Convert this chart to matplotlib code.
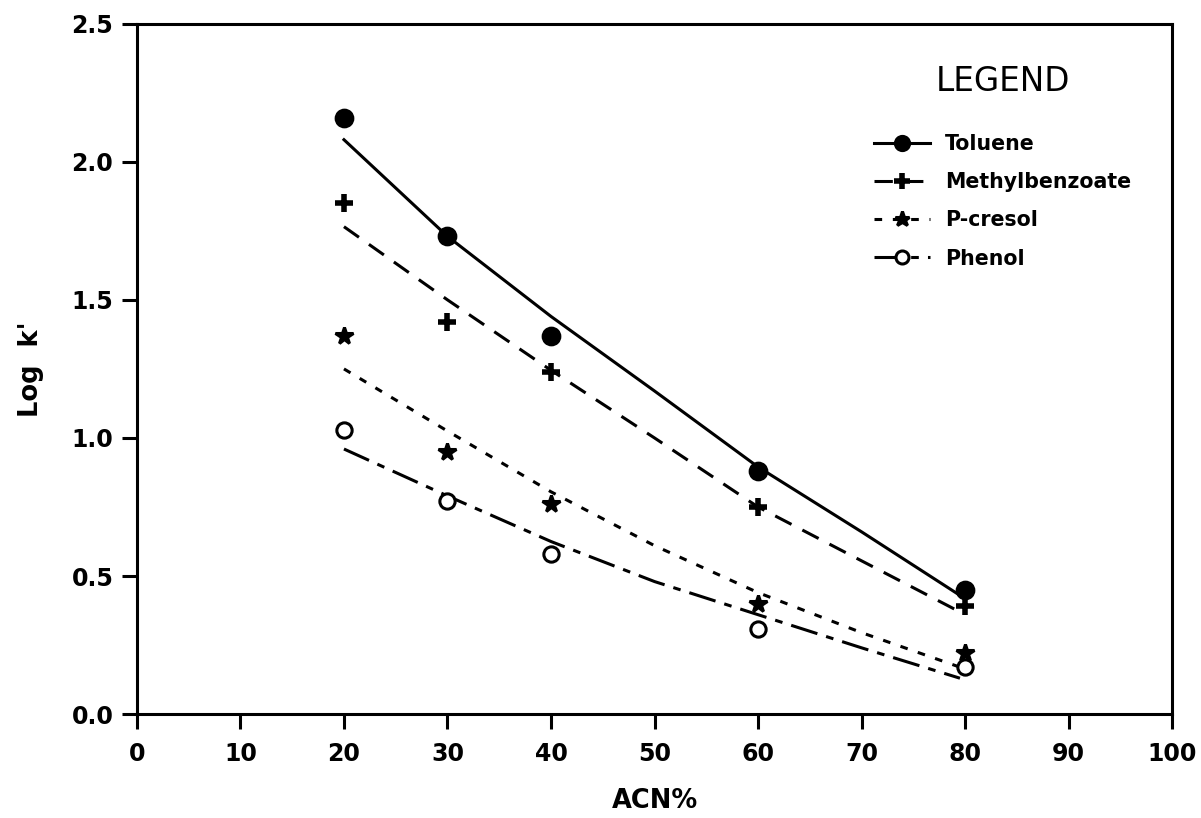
import numpy as np
import matplotlib
matplotlib.use("Agg")
import matplotlib.pyplot as plt

acn = [20, 30, 40, 60, 80]
toluene = [2.16, 1.73, 1.37, 0.88, 0.45]
methylbenzoate = [1.85, 1.42, 1.24, 0.75, 0.39]
p_cresol = [1.37, 0.95, 0.76, 0.40, 0.22]
phenol = [1.03, 0.77, 0.58, 0.31, 0.17]

# curvas ajustadas, tambien
acn_fit = [20, 30, 40, 50, 60, 70, 79.5]
toluene_fit = [2.08, 1.73, 1.44, 1.17, 0.895, 0.66, 0.43]
methylbenzoate_fit = [1.765, 1.50, 1.245, 1.00, 0.75, 0.555, 0.37]
p_cresol_fit = [1.25, 1.025, 0.805, 0.61, 0.44, 0.295, 0.17]
phenol_fit = [0.96, 0.79, 0.625, 0.48, 0.36, 0.24, 0.13]

series = [
    ("Toluene", toluene, toluene_fit, "o", "black", "-", 12),
    ("Methylbenzoate", methylbenzoate, methylbenzoate_fit, "+", "black", (0, (6, 4)), 13),
    ("P-cresol", p_cresol, p_cresol_fit, "*", "black", (0, (2.5, 3.5)), 13),
    ("Phenol", phenol, phenol_fit, "o", "white", (0, (9, 3, 2.5, 3)), 11),
]

plt.rcParams['font.family'] = ['DejaVu Sans']
fig = plt.figure(figsize=(12.01, 8.18), dpi=100)
ax = fig.add_axes([0.114, 0.127, 0.862, 0.844])

handles = []
for nombre, valores, ajuste, marca, relleno, estilo, ms in series:
    ax.plot(acn_fit, ajuste, color="black", lw=2.2, linestyle=estilo)
    mew = 4 if marca == "+" else 2.2
    ax.plot(acn, valores, linestyle="none", marker=marca, ms=ms,
            mfc=relleno, mec="black", mew=mew)
    h, = ax.plot([], [], color="black", lw=2.2, linestyle=estilo, marker=marca,
                 ms=ms * 0.85, mfc=relleno, mec="black", mew=mew, label=nombre)
    handles.append(h)

ax.set_xlim(0, 100)
ax.set_ylim(0, 2.5)
ax.set_xticks(range(0, 101, 10))
ax.set_yticks([0.0, 0.5, 1.0, 1.5, 2.0, 2.5])
ax.set_yticklabels(["0.0", "0.5", "1.0", "1.5", "2.0", "2.5"])
ax.tick_params(direction="out", length=11, width=2.2, labelsize=17)
ax.tick_params(axis="x", pad=9)
ax.tick_params(axis="y", pad=6)
for lab in ax.get_xticklabels() + ax.get_yticklabels():
    lab.set_fontweight("bold")
for sp in ax.spines.values():
    sp.set_linewidth(2.2)

ax.set_xlabel("ACN%", fontsize=18.5, fontweight="bold", labelpad=16)
ax.set_ylabel("Log  k'", fontsize=18.5, fontweight="bold", labelpad=20)

leg = ax.legend(handles=handles, title="LEGEND", loc="upper left",
                bbox_to_anchor=(0.712, 0.94), frameon=False,
                fontsize=14.8, title_fontsize=23.5, handlelength=2.7,
                handletextpad=0.75, labelspacing=0.88, borderaxespad=0,
                borderpad=0)
leg._legend_box.sep = 26
for t in leg.get_texts():
    t.set_fontweight("bold")

plt.savefig("out.png", dpi=100)
